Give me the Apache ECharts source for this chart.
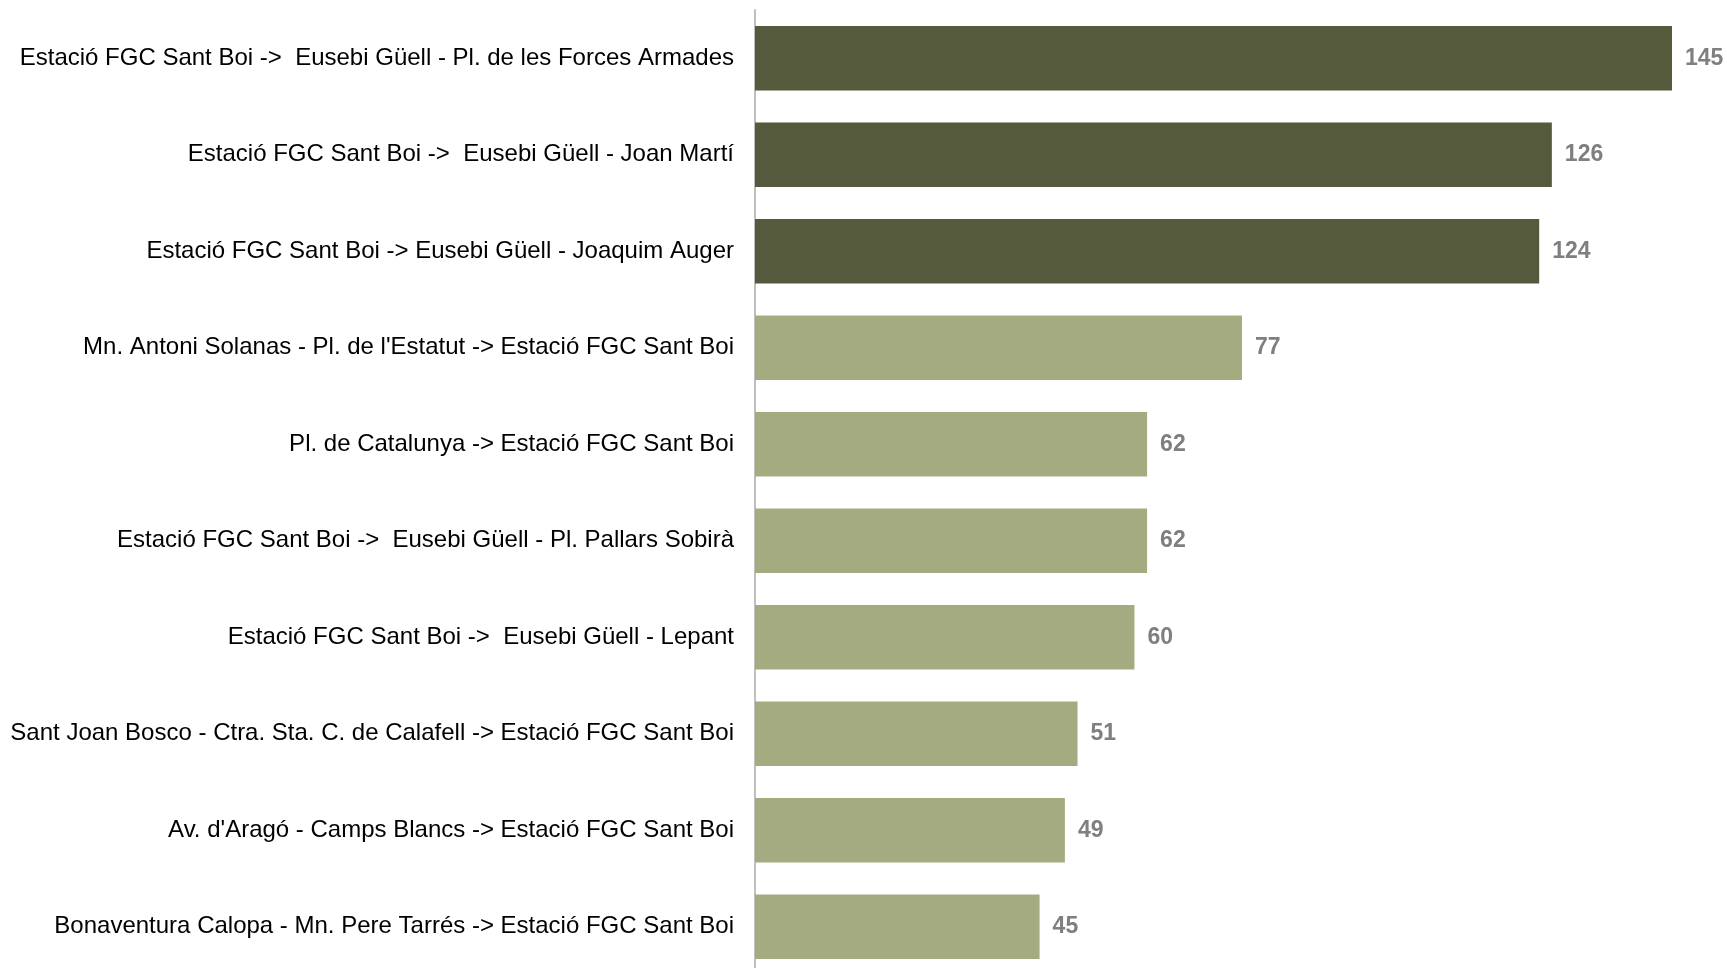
<!DOCTYPE html>
<html>
<head>
<meta charset="utf-8">
<script src="https://cdn.jsdelivr.net/npm/echarts@6/dist/echarts.min.js"></script>
<style>
html,body{margin:0;padding:0;background:#fff;}
#chart{width:1727px;height:968px;}
</style>
</head>
<body>
<div id="chart"></div>
<script>
const categories = [
  "Estació FGC Sant Boi ->  Eusebi Güell - Pl. de les Forces Armades",
  "Estació FGC Sant Boi ->  Eusebi Güell - Joan Martí",
  "Estació FGC Sant Boi -> Eusebi Güell - Joaquim Auger",
  "Mn. Antoni Solanas - Pl. de l'Estatut -> Estació FGC Sant Boi",
  "Pl. de Catalunya -> Estació FGC Sant Boi",
  "Estació FGC Sant Boi ->  Eusebi Güell - Pl. Pallars Sobirà",
  "Estació FGC Sant Boi ->  Eusebi Güell - Lepant",
  "Sant Joan Bosco - Ctra. Sta. C. de Calafell -> Estació FGC Sant Boi",
  "Av. d'Aragó - Camps Blancs -> Estació FGC Sant Boi",
  "Bonaventura Calopa - Mn. Pere Tarrés -> Estació FGC Sant Boi"
];
const values = [145, 126, 124, 77, 62, 62, 60, 51, 49, 45];
const highlighted = [true, true, true, false, false, false, false, false, false, false];

const darkColor = '#555A3D';
const lightColor = '#A5AB80';

const chart = echarts.init(document.getElementById('chart'), null, {renderer: 'canvas'});
chart.setOption({
  animation: false,
  backgroundColor: '#ffffff',
  grid: {left: 755, right: 55, top: 10, height: 965, containLabel: false, outerBoundsMode: 'none'},
  xAxis: {
    type: 'value',
    min: 0,
    max: 145,
    show: false
  },
  yAxis: {
    type: 'category',
    inverse: true,
    data: categories,
    axisLine: {show: true, lineStyle: {color: '#BFBFBF', width: 2}},
    axisTick: {show: false},
    axisLabel: {
      margin: 21,
      fontFamily: 'Liberation Sans, Arial, sans-serif',
      fontSize: 24,
      color: '#000000'
    }
  },
  series: [{
    type: 'bar',
    data: values.map((v, i) => ({value: v, itemStyle: {color: highlighted[i] ? darkColor : lightColor}})),
    barCategoryGap: '33%',
    label: {
      show: true,
      position: 'right',
      distance: 13,
      fontFamily: 'Liberation Sans, Arial, sans-serif',
      fontSize: 23,
      fontWeight: 'bold',
      color: '#7F7F7F'
    }
  }]
});
</script>
</body>
</html>
